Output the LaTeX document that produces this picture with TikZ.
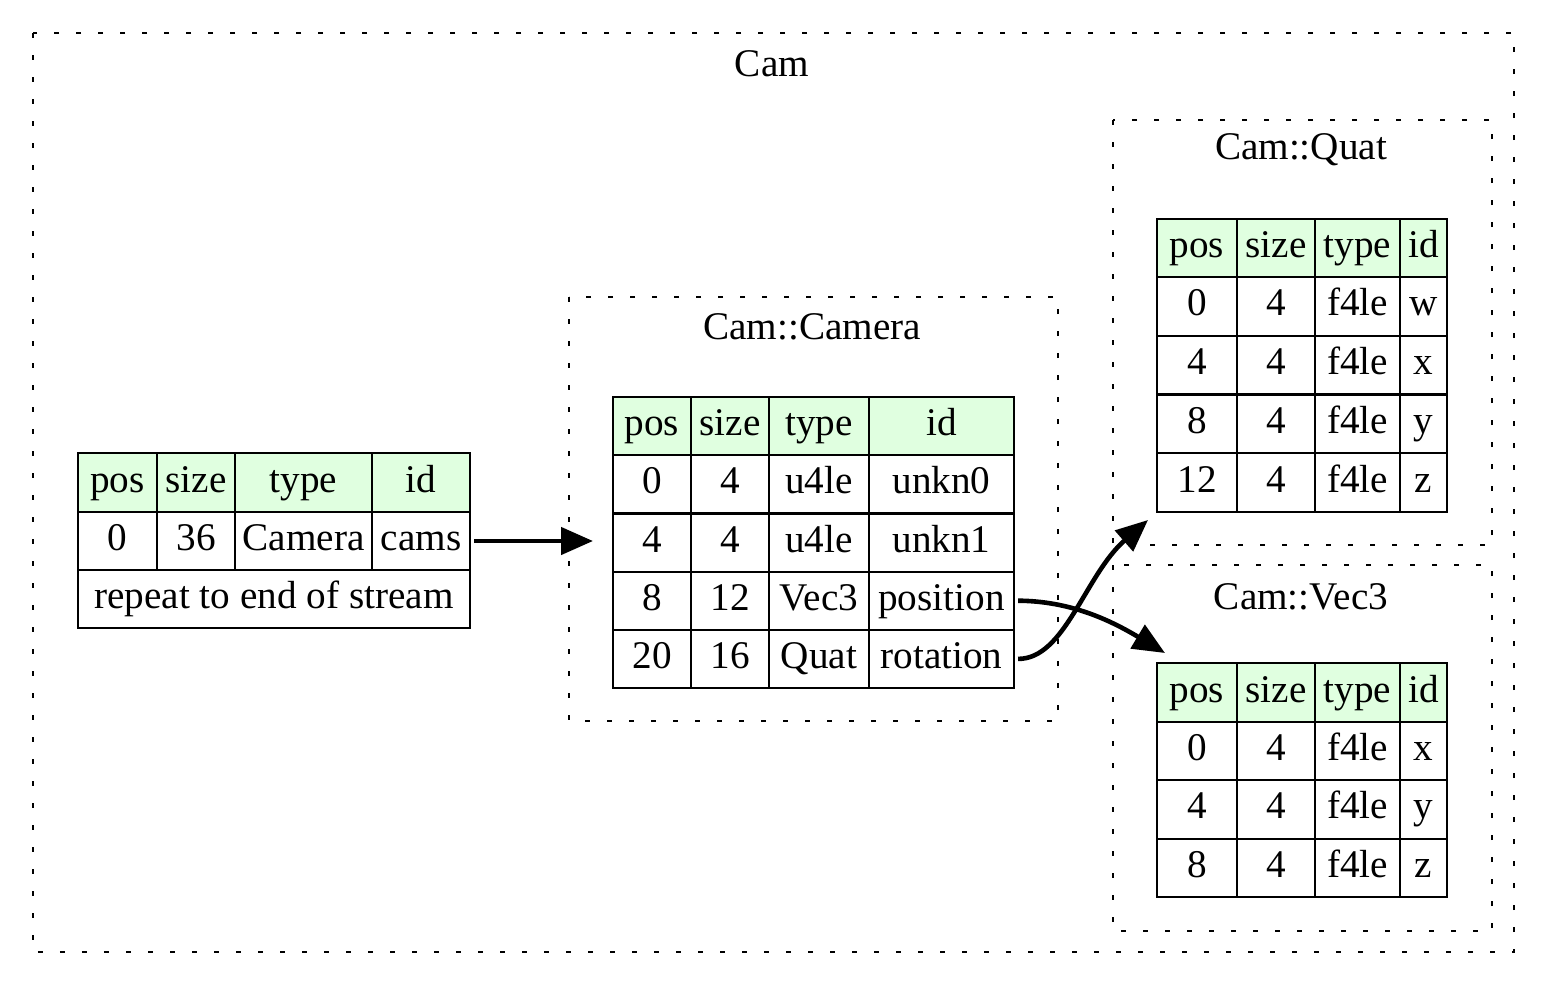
\documentclass[tikz,border=0pt]{standalone}
\usepackage{fontspec}
\setmainfont{Liberation Serif}
\usetikzlibrary{arrows.meta}

\definecolor{headgreen}{HTML}{E0FFE0}

\newcommand{\tcell}[7][]{%
  \node[cell,#1,minimum width={(#4-#3)*0.5pt},minimum height={(#6-#5)*0.5pt}] (#2) at ({(#3+#4)/2},{(#5+#6)/2}) {#7};}

\begin{document}
\begin{tikzpicture}
[x=0.5pt, y=-0.5pt,
font=\fontsize{19.6}{23}\selectfont,
cell/.style={draw, line width=1.1pt, inner sep=0pt, text height=14pt, text depth=4.5pt},
head/.style={fill=headgreen},
cluster/.style={line width=1.4pt, dash pattern=on 2.6pt off 8.4pt},
link/.style={line width=2.3pt, -{Triangle[length=16pt,width=13.5pt]}}]

\useasboundingbox (0,0) rectangle (1547,986);

% clusters
\draw[cluster] (33,33) rectangle (1514,952);
\draw[cluster] (569,297) rectangle (1058,721);
\draw[cluster] (1113,120) rectangle (1492,545);
\draw[cluster] (1113,565) rectangle (1492,931);
\node (cam-title) at (772,64) {Cam};
\node (camera-title) at (812,327) {Cam::Camera};
\node (quat-title) at (1301,150) {Cam::Quat};
\node (vec3-title) at (1301,597) {Cam::Vec3};

% Cam
\foreach \lab/\xa/\xb [count=\c] in {pos/78/157, size/157/235, type/235/372, id/372/470} {
  \tcell[head]{cam-h\c}{\xa}{\xb}{453}{512}{\lab}
}
\foreach \lab/\xa/\xb [count=\c] in {0/78/157, 36/157/235, Camera/235/372, cams/372/470} {
  \tcell{cam-1-\c}{\xa}{\xb}{512}{570}{\lab}
}
\tcell{cam-rep}{78}{470}{570}{628}{repeat to end of stream}

% Cam::Camera
\foreach \lab/\xa/\xb [count=\c] in {pos/613/691, size/691/769, type/769/869, id/869/1014} {
  \tcell[head]{camera-h\c}{\xa}{\xb}{397}{455}{\lab}
}
\foreach \p/\s/\ty/\id [count=\r] in {0/4/u4le/unkn0, 4/4/u4le/unkn1, 8/12/Vec3/position, 20/16/Quat/rotation} {
  \pgfmathsetmacro{\ya}{397+58.2*\r}
  \pgfmathsetmacro{\yb}{\ya+58.2}
  \tcell{camera-\r-1}{613}{691}{\ya}{\yb}{\p}
  \tcell{camera-\r-2}{691}{769}{\ya}{\yb}{\s}
  \tcell{camera-\r-3}{769}{869}{\ya}{\yb}{\ty}
  \tcell{camera-\r-4}{869}{1014}{\ya}{\yb}{\id}
}

% Cam::Quat
\foreach \lab/\xa/\xb [count=\c] in {pos/1157/1237, size/1237/1315, type/1315/1400, id/1400/1447} {
  \tcell[head]{quat-h\c}{\xa}{\xb}{219}{277}{\lab}
}
\foreach \p/\id [count=\r] in {0/w, 4/x, 8/y, 12/z} {
  \pgfmathsetmacro{\ya}{277+58.75*(\r-1)}
  \pgfmathsetmacro{\yb}{\ya+58.75}
  \tcell{quat-\r-1}{1157}{1237}{\ya}{\yb}{\p}
  \tcell{quat-\r-2}{1237}{1315}{\ya}{\yb}{4}
  \tcell{quat-\r-3}{1315}{1400}{\ya}{\yb}{f4le}
  \tcell{quat-\r-4}{1400}{1447}{\ya}{\yb}{\id}
}

% Cam::Vec3
\foreach \lab/\xa/\xb [count=\c] in {pos/1157/1237, size/1237/1315, type/1315/1400, id/1400/1447} {
  \tcell[head]{vec3-h\c}{\xa}{\xb}{663}{722}{\lab}
}
\foreach \p/\id [count=\r] in {0/x, 4/y, 8/z} {
  \pgfmathsetmacro{\ya}{722+58.3*(\r-1)}
  \pgfmathsetmacro{\yb}{\ya+58.3}
  \tcell{vec3-\r-1}{1157}{1237}{\ya}{\yb}{\p}
  \tcell{vec3-\r-2}{1237}{1315}{\ya}{\yb}{4}
  \tcell{vec3-\r-3}{1315}{1400}{\ya}{\yb}{f4le}
  \tcell{vec3-\r-4}{1400}{1447}{\ya}{\yb}{\id}
}

% links
\coordinate (camera-in) at (593,541);
\coordinate (quat-in) at (1148,520);
\coordinate (vec3-in) at (1165,653);
\draw[link] ([xshift=1.5pt]cam-1-4.east) -- (camera-in);
\draw[link] ([xshift=1.5pt]camera-4-4.east) .. controls (1065,659) and (1085,575) .. (quat-in);
\draw[link] ([xshift=1.5pt]camera-3-4.east) .. controls (1070,601) and (1110,620) .. (vec3-in);
\end{tikzpicture}
\end{document}
